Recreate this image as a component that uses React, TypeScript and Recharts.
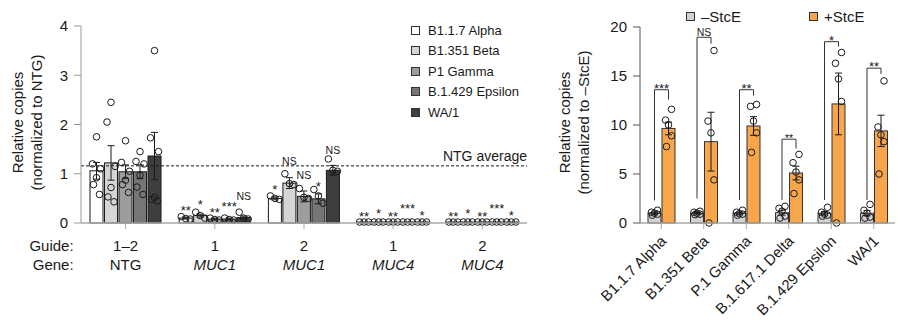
import React from "react";
import { ComposedChart, Bar, XAxis, YAxis, ReferenceLine } from "recharts";

const FONT = '"Liberation Sans", Arial, Helvetica, sans-serif';

// ---------------------------------------------------------------------------
// Left panel: CRISPRi knockdown, five variants per guide/gene group
// ---------------------------------------------------------------------------

const guides = ["1–2", "1", "2", "1", "2"];
const genes = ["NTG", "MUC1", "MUC1", "MUC4", "MUC4"];
const variants = ["B1.1.7 Alpha", "B1.351 Beta", "P1 Gamma", "B.1.429 Epsilon", "WA/1"];
const variantFills = ["#ffffff", "#d5d5d5", "#9d9d9d", "#767676", "#3e3e3e"];

const alphaMean = [1.06, 0.1, 0.5, 0.02, 0.02];
const betaMean = [1.22, 0.15, 0.81, 0.02, 0.02];
const gammaMean = [1.04, 0.08, 0.54, 0.02, 0.02];
const epsilonMean = [1.04, 0.08, 0.49, 0.02, 0.02];
const wa1Mean = [1.36, 0.11, 1.07, 0.02, 0.02];

const alphaSem = [0.17, 0.02, 0.03, 0.005, 0.005];
const betaSem = [0.35, 0.03, 0.11, 0.005, 0.005];
const gammaSem = [0.14, 0.02, 0.11, 0.005, 0.005];
const epsilonSem = [0.14, 0.02, 0.1, 0.005, 0.005];
const wa1Sem = [0.48, 0.03, 0.1, 0.005, 0.005];

const alphaPts = [[1.75, 1.2, 1.1, 0.92, 0.78, 0.58], [0.13, 0.09, 0.08], [0.55, 0.5, 0.48], [0.02, 0.02, 0.02], [0.02, 0.02, 0.02]];
const betaPts = [[2.45, 2.05, 1.15, 0.72, 0.53, 0.43], [0.22, 0.15, 0.1], [1.0, 0.8, 0.78], [0.02, 0.02, 0.02], [0.02, 0.02, 0.02]];
const gammaPts = [[1.67, 1.23, 1.05, 0.87, 0.78, 0.62], [0.1, 0.07, 0.06], [0.7, 0.52, 0.5], [0.02, 0.02, 0.02], [0.02, 0.02, 0.02]];
const epsilonPts = [[1.45, 1.25, 1.2, 0.97, 0.73, 0.58], [0.1, 0.07, 0.06], [0.68, 0.55, 0.4], [0.02, 0.02, 0.02], [0.02, 0.02, 0.02]];
const wa1Pts = [[3.5, 1.73, 1.45, 0.52, 0.48, 0.45], [0.22, 0.1, 0.08], [1.3, 1.07, 1.05], [0.02, 0.02, 0.02], [0.02, 0.02, 0.02]];

const alphaSig = ["", "**", "*", "**", "**"];
const betaSig = ["", "*", "NS", "*", "*"];
const gammaSig = ["", "**", "NS", "**", "**"];
const epsilonSig = ["", "***", "*", "***", "***"];
const wa1Sig = ["", "NS", "NS", "*", "*"];

// value (in y units) at which each significance label sits
const alphaSigAt = [0, 0.17, 0.58, 0.045, 0.045];
const betaSigAt = [0, 0.28, 1.17, 0.11, 0.11];
const gammaSigAt = [0, 0.13, 0.9, 0.045, 0.045];
const epsilonSigAt = [0, 0.25, 0.65, 0.21, 0.21];
const wa1SigAt = [0, 0.47, 1.4, 0.065, 0.065];

const NTG_AVG = 1.16;
const leftTicks = [0, 1, 2, 3, 4];

const leftMeans = [alphaMean, betaMean, gammaMean, epsilonMean, wa1Mean];
const leftSems = [alphaSem, betaSem, gammaSem, epsilonSem, wa1Sem];
const leftPts = [alphaPts, betaPts, gammaPts, epsilonPts, wa1Pts];
const leftSig = [alphaSig, betaSig, gammaSig, epsilonSig, wa1Sig];
const leftSigAt = [alphaSigAt, betaSigAt, gammaSigAt, epsilonSigAt, wa1SigAt];

const leftRows = guides.map((g, i) => {
  const row: any = { key: `${genes[i]} ${g}`, guide: g, gene: genes[i] };
  variants.forEach((_, v) => {
    row[`m${v}`] = leftMeans[v][i];
    row[`e${v}`] = leftSems[v][i];
    row[`p${v}`] = leftPts[v][i];
    row[`s${v}`] = leftSig[v][i];
    row[`sa${v}`] = leftSigAt[v][i];
  });
  return row;
});

// ---------------------------------------------------------------------------
// Right panel: StcE treatment
// ---------------------------------------------------------------------------

const stceCats = ["B1.1.7 Alpha", "B1.351 Beta", "P.1 Gamma", "B.1.617.1 Delta", "B.1.429 Epsilon", "WA/1"];
const minusMean = [1.0, 1.0, 1.0, 1.05, 1.0, 1.0];
const minusSem = [0.1, 0.07, 0.1, 0.25, 0.17, 0.27];
const plusMean = [9.65, 8.3, 9.9, 5.1, 12.15, 9.4];
const plusSem = [0.65, 3.0, 0.95, 0.7, 3.15, 1.6];
const minusPts = [
  [1.3, 1.1, 1.0, 0.9, 0.8],
  [1.2, 1.1, 1.0, 0.9, 0.85],
  [1.3, 1.1, 0.95, 0.9, 0.8],
  [1.7, 1.5, 1.2, 0.7, 0.5],
  [1.6, 1.1, 0.9, 0.8, 0.7],
  [1.9, 1.3, 1.0, 0.6, 0.5],
];
const plusPts = [
  [11.6, 10.5, 10.0, 8.9, 7.8],
  [17.6, 10.4, 9.2, 4.4, 0],
  [12.1, 11.9, 10.4, 9.2, 7.2],
  [7.0, 6.15, 5.2, 4.4, 3.0],
  [17.4, 16.3, 14.7, 12.4, 0],
  [14.5, 9.8, 9.0, 8.3, 5.0],
];
const bracketSig = ["***", "NS", "**", "**", "*", "**"];
const bracketTop = [13.6, 18.95, 13.6, 8.55, 18.5, 15.8];
const bracketLeftLow = [2.3, 2.5, 2.35, 2.35, 2.35, 2.35];
const bracketRightLow = [12.6, 18.3, 13.0, 7.6, 18.0, 15.2];
const rightTicks = [0, 5, 10, 15, 20];

const stceRows = stceCats.map((c, i) => ({
  cat: c,
  minus: minusMean[i],
  plus: plusMean[i],
  minusSem: minusSem[i],
  plusSem: plusSem[i],
  minusPts: minusPts[i],
  plusPts: plusPts[i],
  sig: bracketSig[i],
  top: bracketTop[i],
  leftLow: bracketLeftLow[i],
  rightLow: bracketRightLow[i],
}));

// ---------------------------------------------------------------------------
// Geometry
// ---------------------------------------------------------------------------

const LEFT_W = 540;
const RIGHT_W = 369;
const H = 326;
const PLOT_TOP = 26;
const PLOT_BOTTOM = 223;
const LEFT_MAX = 4;
const RIGHT_MAX = 20;
const INK = "#1a1a1a";

function scaleFor(p: any, max: number) {
  const top = p.background?.y ?? PLOT_TOP;
  const h = p.background?.height ?? PLOT_BOTTOM - PLOT_TOP;
  return (v: number) => top + h * (1 - v / max);
}

function ErrBar({ cx, yHi, yLo }: { cx: number; yHi: number; yLo: number }) {
  return (
    <g stroke={INK} strokeWidth={1}>
      <line x1={cx} x2={cx} y1={yHi} y2={yLo} />
      <line x1={cx - 3.5} x2={cx + 3.5} y1={yHi} y2={yHi} />
      <line x1={cx - 3.5} x2={cx + 3.5} y1={yLo} y2={yLo} />
    </g>
  );
}

function jitter(n: number) {
  if (n === 6) return [0, -4, 4, 0, -3, 3];
  if (n === 5) return [3, -3, 0, 3, -2];
  return [-4.5, 0, 4.5];
}

function leftShape(v: number) {
  return (p: any) => {
    const { x, y, width, height, payload } = p;
    const yOf = scaleFor(p, LEFT_MAX);
    const cx = x + width / 2;
    const mean = payload[`m${v}`];
    const sem = payload[`e${v}`];
    const pts: number[] = payload[`p${v}`];
    const sig: string = payload[`s${v}`];
    const offs = jitter(pts.length);
    return (
      <g>
        <rect x={x} y={y} width={width} height={Math.max(height, 1)} fill={variantFills[v]} stroke={INK} strokeWidth={1} />
        {pts.map((val, k) => (
          <circle key={k} cx={cx + offs[k]} cy={yOf(val)} r={3.3} fill="none" stroke={INK} strokeWidth={1} />
        ))}
        {sem > 0.01 && <ErrBar cx={cx} yHi={yOf(mean + sem)} yLo={yOf(mean - sem)} />}
        {sig && (
          <text x={cx} y={yOf(payload[`sa${v}`])} textAnchor="middle" fontFamily={FONT}
            fontSize={sig === "NS" ? 10.5 : 13} fill={INK}>
            {sig}
          </text>
        )}
      </g>
    );
  };
}

function stceShape(kind: "minus" | "plus") {
  return (p: any) => {
    const { x, y, width, height, payload } = p;
    const yOf = scaleFor(p, RIGHT_MAX);
    const cx = x + width / 2;
    const mean = payload[kind];
    const sem = payload[`${kind}Sem`];
    const pts: number[] = payload[`${kind}Pts`];
    const offs = jitter(pts.length);
    const leftX = cx - width - 1;
    const topY = yOf(payload.top);
    // the Delta bracket carries a smaller label in the original figure
    const sigSize = payload.sig === "NS" ? 10.5 : payload.cat.includes("Delta") ? 10.5 : 13;
    return (
      <g>
        <rect x={x} y={y} width={width} height={Math.max(height, 1)}
          fill={kind === "minus" ? "#d2d2d2" : "#f7a64b"} stroke="#333" strokeWidth={1} />
        {pts.map((val, k) => (
          <circle key={k} cx={cx + offs[k]} cy={yOf(val)} r={3.3} fill="none" stroke={INK} strokeWidth={1} />
        ))}
        <ErrBar cx={cx} yHi={yOf(mean + sem)} yLo={yOf(mean - sem)} />
        {kind === "plus" && (
          <g>
            <polyline fill="none" stroke="#333" strokeWidth={1}
              points={`${leftX},${yOf(payload.leftLow)} ${leftX},${topY} ${cx},${topY} ${cx},${yOf(payload.rightLow)}`} />
            <text x={(leftX + cx) / 2} y={payload.sig === "NS" ? topY - 1.5 : topY + sigSize * 0.23}
              textAnchor="middle" fontFamily={FONT} fontSize={sigSize} fill={INK}>
              {payload.sig}
            </text>
          </g>
        )}
      </g>
    );
  };
}

// ---------------------------------------------------------------------------
// Ticks, titles, legends
// ---------------------------------------------------------------------------

function LeftTick({ x, y, index }: any) {
  const row = leftRows[index];
  const italic = row.gene !== "NTG";
  return (
    <g fontFamily={FONT} fontSize={15} fill={INK}>
      <text x={x} y={y + 20} textAnchor="middle" fill={INK}>{row.guide}</text>
      <text x={x} y={y + 39} textAnchor="middle" fill={INK} fontStyle={italic ? "italic" : "normal"}>{row.gene}</text>
      {index === 0 && (
        <>
          <text x={x - 52} y={y + 20} textAnchor="end" fill={INK}>Guide:</text>
          <text x={x - 52} y={y + 39} textAnchor="end" fill={INK}>Gene:</text>
        </>
      )}
    </g>
  );
}

function StceTick({ x, y, payload }: any) {
  const ax = x + 6;
  const ay = y + 11;
  return (
    <text x={ax} y={ay} transform={`rotate(-45, ${ax}, ${ay})`} textAnchor="end"
      fontFamily={FONT} fontSize={15} fill={INK}>
      {payload.value}
    </text>
  );
}

function YTitle({ lines, xs }: { lines: string[]; xs: number[] }) {
  const cy = (PLOT_TOP + PLOT_BOTTOM) / 2 - 2;
  return (
    <g>
      {lines.map((l, i) => (
        <text key={i} transform={`translate(${xs[i]}, ${cy}) rotate(-90)`} textAnchor="middle"
          fontFamily={FONT} fontSize={15} fill={INK}>
          {l}
        </text>
      ))}
    </g>
  );
}

function NtgLabel({ viewBox }: any) {
  return (
    <text x={viewBox.x + viewBox.width} y={viewBox.y - 4.5} textAnchor="end"
      fontFamily={FONT} fontSize={14} fill={INK}>
      NTG average
    </text>
  );
}

const swatch = (fill: string): React.CSSProperties => ({
  display: "inline-block", width: 7, height: 7, background: fill,
  border: "1px solid #333", marginRight: 8,
});

function LeftLegend() {
  return (
    <div style={{ position: "absolute", left: 411, top: 20, fontFamily: FONT, fontSize: 13, color: INK }}>
      {variants.map((v, i) => (
        <div key={v} style={{ height: 20.5, display: "flex", alignItems: "center" }}>
          <span style={swatch(variantFills[i])} />
          {v}
        </div>
      ))}
    </div>
  );
}

function StceLegend() {
  const items = [["–StcE", "#d2d2d2", 686], ["+StcE", "#f7a64b", 809]] as const;
  return (
    <>
      {items.map(([label, fill, left]) => (
        <div key={label} style={{
          position: "absolute", left, top: 6, height: 20, display: "flex", alignItems: "center",
          fontFamily: FONT, fontSize: 15, color: INK,
        }}>
          <span style={{ ...swatch(fill), marginRight: 6 }} />
          {label}
        </div>
      ))}
    </>
  );
}

// ---------------------------------------------------------------------------

export default function App() {
  return (
    <div style={{ position: "absolute", left: 0, top: 0, width: 909, height: H, background: "#fff", overflow: "hidden" }}>
      <div style={{ position: "absolute", left: 0, top: 0 }}>
        <ComposedChart width={LEFT_W} height={H} data={leftRows}
          margin={{ top: PLOT_TOP, right: 13, bottom: 0, left: 0 }}
          barSize={13} barGap={1.5}>
          <XAxis dataKey="key" height={H - PLOT_BOTTOM} tick={<LeftTick />} interval={0}
            axisLine={{ stroke: "#a8a8a8", strokeWidth: 1.5 }} tickLine={{ stroke: "#a8a8a8" }} tickSize={6} />
          <YAxis domain={[0, LEFT_MAX]} ticks={leftTicks} width={81} tickSize={7} tickMargin={6}
            axisLine={{ stroke: "#999" }} tickLine={{ stroke: "#999" }}
            tick={{ fontFamily: FONT, fontSize: 15, fill: INK }}
            label={<YTitle lines={["Relative copies", "(normalized to NTG)"]} xs={[23, 42]} />} />
          {variants.map((v, i) => (
            <Bar key={v} dataKey={`m${i}`} name={v} shape={leftShape(i)} isAnimationActive={false} />
          ))}
          <ReferenceLine y={NTG_AVG} stroke={INK} strokeWidth={1} strokeDasharray="3 2" label={<NtgLabel />} />
        </ComposedChart>
      </div>
      <LeftLegend />

      <div style={{ position: "absolute", left: LEFT_W, top: 0 }}>
        <ComposedChart width={RIGHT_W} height={H} data={stceRows}
          margin={{ top: PLOT_TOP + 1, right: 14, bottom: 0, left: 0 }}
          barSize={13} barGap={1}>
          <XAxis dataKey="cat" height={H - PLOT_BOTTOM} tick={<StceTick />} interval={0}
            axisLine={{ stroke: "#a8a8a8", strokeWidth: 1.5 }} tickLine={{ stroke: "#a8a8a8" }} tickSize={6} />
          <YAxis domain={[0, RIGHT_MAX]} ticks={rightTicks} width={100} tickSize={7} tickMargin={6}
            axisLine={{ stroke: "#555" }} tickLine={{ stroke: "#555" }}
            tick={{ fontFamily: FONT, fontSize: 15, fill: INK }}
            label={<YTitle lines={["Relative copies", "(normalized to –StcE)"]} xs={[30, 49]} />} />
          <Bar dataKey="minus" name="–StcE" shape={stceShape("minus")} isAnimationActive={false} />
          <Bar dataKey="plus" name="+StcE" shape={stceShape("plus")} isAnimationActive={false} />
        </ComposedChart>
      </div>
      <StceLegend />
    </div>
  );
}
